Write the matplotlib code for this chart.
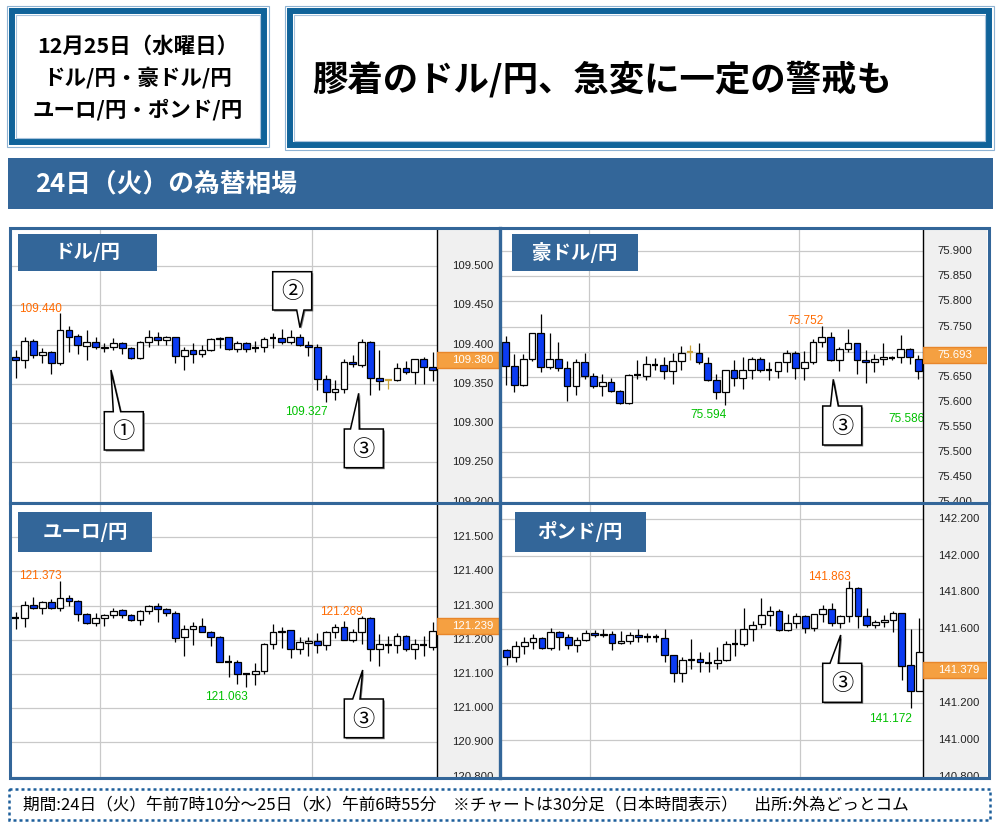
import numpy as np
import matplotlib
matplotlib.use('Agg')
import matplotlib.pyplot as plt
from matplotlib.patches import Rectangle, Polygon

plt.rcParams['font.family'] = ['Noto Sans CJK JP', 'DejaVu Sans']

# --- データ: 30分足 (24日 7:10 ～ 25日 6:55) ---
usd_open = [109.384, 109.380, 109.404, 109.387, 109.391, 109.377, 109.419, 109.411, 109.398, 109.403,
            109.396, 109.397, 109.402, 109.396, 109.383, 109.403, 109.409, 109.406, 109.409, 109.385,
            109.393, 109.388, 109.393, 109.408, 109.409, 109.394, 109.402, 109.395, 109.397, 109.408,
            109.408, 109.403, 109.409, 109.399, 109.397, 109.356, 109.340, 109.343, 109.378, 109.374,
            109.403, 109.358, 109.355, 109.355, 109.370, 109.365, 109.381, 109.371]
usd_high = [109.393, 109.409, 109.407, 109.396, 109.392, 109.440, 109.423, 109.414, 109.419, 109.409,
            109.402, 109.408, 109.403, 109.397, 109.404, 109.419, 109.416, 109.411, 109.410, 109.397,
            109.402, 109.399, 109.408, 109.409, 109.410, 109.404, 109.403, 109.405, 109.409, 109.415,
            109.420, 109.419, 109.414, 109.404, 109.401, 109.361, 109.355, 109.382, 109.387, 109.407,
            109.404, 109.393, 109.355, 109.376, 109.379, 109.382, 109.384, 109.391]
usd_low = [109.357, 109.370, 109.383, 109.376, 109.362, 109.374, 109.390, 109.388, 109.380, 109.394,
           109.391, 109.393, 109.388, 109.381, 109.381, 109.397, 109.399, 109.399, 109.376, 109.367,
           109.376, 109.384, 109.392, 109.395, 109.393, 109.391, 109.391, 109.391, 109.391, 109.395,
           109.401, 109.401, 109.398, 109.386, 109.342, 109.327, 109.330, 109.338, 109.372, 109.372,
           109.336, 109.342, 109.344, 109.354, 109.363, 109.350, 109.350, 109.354]
usd_close = [109.380, 109.404, 109.387, 109.391, 109.377, 109.419, 109.409, 109.399, 109.403, 109.397,
             109.397, 109.402, 109.396, 109.383, 109.403, 109.409, 109.406, 109.409, 109.385, 109.393,
             109.388, 109.393, 109.407, 109.407, 109.394, 109.402, 109.394, 109.395, 109.407, 109.408,
             109.403, 109.409, 109.399, 109.397, 109.356, 109.340, 109.343, 109.378, 109.375, 109.403,
             109.358, 109.354, 109.355, 109.370, 109.365, 109.381, 109.372, 109.367]

aud_open = [75.719, 75.671, 75.633, 75.685, 75.737, 75.669, 75.686, 75.667, 75.631, 75.680,
            75.651, 75.632, 75.640, 75.622, 75.598, 75.653, 75.651, 75.673, 75.673, 75.661,
            75.681, 75.699, 75.697, 75.677, 75.643, 75.620, 75.663, 75.648, 75.664, 75.685,
            75.663, 75.661, 75.679, 75.697, 75.667, 75.679, 75.719, 75.729, 75.683, 75.705,
            75.717, 75.684, 75.679, 75.685, 75.688, 75.689, 75.705, 75.685]
aud_high = [75.732, 75.696, 75.696, 75.738, 75.775, 75.737, 75.719, 75.681, 75.686, 75.697,
            75.657, 75.655, 75.648, 75.623, 75.656, 75.683, 75.692, 75.688, 75.689, 75.697,
            75.711, 75.714, 75.717, 75.690, 75.655, 75.664, 75.683, 75.689, 75.690, 75.690,
            75.679, 75.680, 75.704, 75.701, 75.702, 75.725, 75.752, 75.739, 75.710, 75.745,
            75.718, 75.704, 75.696, 75.717, 75.692, 75.733, 75.708, 75.694]
aud_low = [75.633, 75.620, 75.632, 75.681, 75.659, 75.666, 75.661, 75.601, 75.613, 75.646,
           75.627, 75.611, 75.620, 75.596, 75.595, 75.646, 75.644, 75.663, 75.646, 75.636,
           75.663, 75.683, 75.676, 75.642, 75.605, 75.594, 75.631, 75.625, 75.646, 75.659,
           75.644, 75.648, 75.659, 75.646, 75.644, 75.676, 75.710, 75.682, 75.661, 75.699,
           75.656, 75.638, 75.659, 75.673, 75.683, 75.677, 75.676, 75.646]
aud_close = [75.671, 75.633, 75.685, 75.737, 75.669, 75.685, 75.668, 75.631, 75.680, 75.651,
             75.632, 75.640, 75.622, 75.598, 75.653, 75.653, 75.675, 75.673, 75.661, 75.681,
             75.697, 75.699, 75.679, 75.643, 75.620, 75.663, 75.648, 75.663, 75.685, 75.664,
             75.663, 75.679, 75.697, 75.667, 75.679, 75.719, 75.729, 75.683, 75.705, 75.717,
             75.683, 75.679, 75.686, 75.689, 75.688, 75.705, 75.689, 75.661]

eur_open = [121.265, 121.265, 121.303, 121.294, 121.309, 121.294, 121.321, 121.313, 121.275, 121.249,
            121.265, 121.272, 121.287, 121.273, 121.258, 121.283, 121.299, 121.289, 121.277, 121.207,
            121.230, 121.241, 121.222, 121.207, 121.134, 121.134, 121.100, 121.100, 121.109, 121.187,
            121.224, 121.228, 121.173, 121.191, 121.195, 121.185, 121.222, 121.236, 121.200, 121.224,
            121.265, 121.173, 121.186, 121.185, 121.210, 121.173, 121.186, 121.178]
eur_high = [121.280, 121.314, 121.326, 121.314, 121.320, 121.373, 121.331, 121.315, 121.278, 121.278,
            121.275, 121.294, 121.289, 121.275, 121.287, 121.301, 121.306, 121.294, 121.285, 121.243,
            121.251, 121.265, 121.227, 121.212, 121.156, 121.140, 121.103, 121.132, 121.190, 121.245,
            121.236, 121.229, 121.207, 121.207, 121.219, 121.227, 121.245, 121.254, 121.231, 121.269,
            121.266, 121.216, 121.210, 121.219, 121.214, 121.201, 121.210, 121.251]
eur_low = [121.231, 121.236, 121.289, 121.275, 121.289, 121.285, 121.299, 121.256, 121.246, 121.239,
           121.241, 121.265, 121.265, 121.254, 121.244, 121.275, 121.253, 121.270, 121.193, 121.154,
           121.186, 121.222, 121.183, 121.134, 121.090, 121.071, 121.063, 121.067, 121.101, 121.173,
           121.175, 121.148, 121.157, 121.152, 121.162, 121.169, 121.206, 121.198, 121.193, 121.188,
           121.138, 121.122, 121.162, 121.161, 121.168, 121.143, 121.152, 121.169]
eur_close = [121.265, 121.303, 121.294, 121.309, 121.294, 121.321, 121.313, 121.275, 121.249, 121.265,
             121.272, 121.285, 121.273, 121.258, 121.283, 121.299, 121.289, 121.278, 121.204, 121.230,
             121.241, 121.224, 121.207, 121.135, 121.134, 121.101, 121.100, 121.109, 121.187, 121.224,
             121.226, 121.173, 121.193, 121.195, 121.185, 121.222, 121.236, 121.200, 121.224, 121.265,
             121.173, 121.187, 121.186, 121.210, 121.173, 121.187, 121.186, 121.227]

gbp_open = [141.488, 141.449, 141.511, 141.533, 141.554, 141.497, 141.586, 141.559, 141.517, 141.543,
            141.582, 141.568, 141.577, 141.526, 141.538, 141.570, 141.556, 141.556, 141.552, 141.458,
            141.364, 141.432, 141.440, 141.419, 141.419, 141.435, 141.520, 141.520, 141.600, 141.627,
            141.677, 141.701, 141.595, 141.632, 141.671, 141.606, 141.684, 141.712, 141.632, 141.671,
            141.826, 141.671, 141.623, 141.641, 141.652, 141.687, 141.405, 141.267]
gbp_high = [141.494, 141.535, 141.559, 141.577, 141.559, 141.609, 141.591, 141.574, 141.559, 141.595,
            141.595, 141.600, 141.591, 141.588, 141.586, 141.600, 141.582, 141.577, 141.600, 141.460,
            141.449, 141.550, 141.476, 141.476, 141.506, 141.538, 141.600, 141.716, 141.645, 141.769,
            141.724, 141.710, 141.684, 141.689, 141.680, 141.685, 141.730, 141.742, 141.677, 141.863,
            141.827, 141.716, 141.653, 141.680, 141.698, 141.688, 141.604, 141.662]
gbp_low = [141.405, 141.423, 141.467, 141.494, 141.494, 141.488, 141.488, 141.494, 141.476, 141.538,
           141.556, 141.559, 141.488, 141.520, 141.520, 141.529, 141.529, 141.529, 141.423, 141.316,
           141.316, 141.382, 141.369, 141.369, 141.382, 141.428, 141.455, 141.511, 141.538, 141.609,
           141.618, 141.588, 141.593, 141.609, 141.579, 141.591, 141.641, 141.618, 141.609, 141.641,
           141.606, 141.613, 141.609, 141.613, 141.586, 141.325, 141.172, 141.266]
gbp_close = [141.449, 141.511, 141.533, 141.554, 141.497, 141.586, 141.559, 141.517, 141.543, 141.579,
             141.568, 141.577, 141.526, 141.538, 141.570, 141.556, 141.556, 141.556, 141.458, 141.364,
             141.432, 141.440, 141.423, 141.419, 141.435, 141.520, 141.520, 141.600, 141.623, 141.677,
             141.701, 141.595, 141.632, 141.671, 141.606, 141.684, 141.712, 141.632, 141.671, 141.826,
             141.671, 141.623, 141.641, 141.652, 141.687, 141.400, 141.267, 141.476]

# 目盛り
usd_ticks = [109.20, 109.25, 109.30, 109.35, 109.40, 109.45, 109.50]
aud_ticks = [75.40, 75.45, 75.50, 75.55, 75.60, 75.65, 75.70, 75.75, 75.80, 75.85, 75.90]
eur_ticks = [120.8, 120.9, 121.0, 121.1, 121.2, 121.3, 121.4, 121.5]
gbp_ticks = [140.8, 141.0, 141.2, 141.4, 141.6, 141.8, 142.0, 142.2]

# 現在値
usd_last = 109.380
aud_last = 75.693
eur_last = 121.239
gbp_last = 141.379

# 高値・安値ラベル (足の番号, 値)
usd_high_lbl = [(5, 109.440)]
usd_low_lbl = [(35, 109.327)]
aud_high_lbl = [(36, 75.752)]
aud_low_lbl = [(25, 75.594), (47.6, 75.586)]
eur_high_lbl = [(5, 121.373), (39, 121.269)]
eur_low_lbl = [(26, 121.063)]
gbp_high_lbl = [(39, 141.863)]
gbp_low_lbl = [(46, 141.172)]

# --- 体裁 ---
W, H = 999, 826
BLUE = '#336699'
HDR = '#10639a'
CANDLE_BLUE = '#0b3bf2'
GRID = '#c9c9c9'
NUM_FONT = ['Liberation Sans Narrow', 'Liberation Sans', 'DejaVu Sans']
LBL_FONT = ['Liberation Sans', 'DejaVu Sans']
BW = 0.76
BOX_PX = 16.0


def px_rect(x0, y0, x1, y1):
    return [x0 / W, 1 - y1 / H, (x1 - x0) / W, (y1 - y0) / H]


fig = plt.figure(figsize=(W / 100, H / 100), dpi=100)

bg = fig.add_axes([0, 0, 1, 1], zorder=0)
bg.set_xlim(0, W)
bg.set_ylim(H, 0)
bg.axis('off')

fg = fig.add_axes([0, 0, 1, 1], zorder=10)
fg.set_xlim(0, W)
fg.set_ylim(H, 0)
fg.axis('off')


# --- ヘッダー ---
def double_box(x0, y0, x1, y1):
    bg.add_patch(Rectangle((x0, y0), x1 - x0, y1 - y0, fill=False, ec='#8fb3d3', lw=0.8))
    bg.add_patch(Rectangle((x0 + 5, y0 + 5), x1 - x0 - 10, y1 - y0 - 10, fill=False, ec=HDR, lw=4.3))
    bg.add_patch(Rectangle((x0 + 9, y0 + 9), x1 - x0 - 18, y1 - y0 - 18, fill=False, ec='#a9c3dc', lw=0.8))


double_box(7, 6, 269, 147)
double_box(285, 6, 994, 150)

for yy, s in [(46, '12月25日（水曜日）'), (78, 'ドル/円・豪ドル/円'), (110, 'ユーロ/円・ポンド/円')]:
    bg.text(138, yy, s, ha='center', va='center', fontsize=15.5, fontweight='bold')

bg.text(312, 79, '膠着のドル/円、急変に一定の警戒も', ha='left', va='center',
        fontsize=25.5, fontweight='bold')

bg.add_patch(Rectangle((8, 158), 985, 51, fc=BLUE, ec='none'))
bg.text(35, 184, '24日（火）の為替相場', ha='left', va='center', color='white',
        fontsize=18.5, fontweight='bold')

# --- フッター ---
bg.add_patch(Rectangle((9, 789), 981, 31, fill=False, ec='#1d5f9b', lw=1.8, ls=(0, (1.2, 1.2))))
bg.text(23, 805, '期間:24日（火）午前7時10分～25日（水）午前6時55分　※チャートは30分足（日本時間表示）　出所:外為どっとコム',
        ha='left', va='center', fontsize=12)


# --- ローソク足パネル ---
def draw_panel(main, strip, o, h, l, c, ylim, xlim, ticks, last, gold=None):
    ax = fig.add_axes(px_rect(*main), zorder=2)
    ax.set_xlim(*xlim)
    ax.set_ylim(*ylim)
    ax.set_facecolor('white')
    for sp in ax.spines.values():
        sp.set_visible(False)
    ax.set_yticks(ticks)
    ax.set_xticks([])
    ax.tick_params(length=0, labelleft=False, labelbottom=False)
    ax.grid(axis='y', color=GRID, lw=0.9)
    for gx in (9.5, 33.4):
        ax.axvline(gx, color=GRID, lw=0.9, zorder=0.5)
    ax.set_axisbelow(True)

    for i in range(len(o)):
        col = '#c9a23a' if i == gold else 'black'
        ax.vlines(i, l[i], h[i], color=col, lw=0.9, zorder=2)
        lo, hi = min(o[i], c[i]), max(o[i], c[i])
        if hi - lo < 1e-9:
            ax.hlines(o[i], i - BW / 2, i + BW / 2, color=col, lw=1.6, zorder=3)
        else:
            face = CANDLE_BLUE if c[i] < o[i] else 'white'
            ax.add_patch(Rectangle((i - BW / 2, lo), BW, hi - lo, fc=face, ec='black',
                                   lw=0.9, zorder=3))

    st = fig.add_axes(px_rect(*strip), zorder=3, sharey=ax)
    st.set_facecolor('#f0f0f0')
    st.set_xlim(0, 1)
    st.set_xticks([])
    st.tick_params(length=0, labelleft=False, labelbottom=False)
    for name, sp in st.spines.items():
        sp.set_visible(name == 'left')
    st.spines['left'].set_color('black')
    st.spines['left'].set_linewidth(1.0)

    span = (ylim[1] - ylim[0]) / (main[3] - main[1])   # 値 / px
    for v in ticks:
        if abs(v - last) < 9 * span:   # 現在値の枠に隠れる目盛り
            continue
        st.annotate('%.3f' % v, xy=(0, v), xycoords=('axes fraction', 'data'), xytext=(11, 0),
                    textcoords='offset points', ha='left', va='center', fontsize=8.2,
                    family=NUM_FONT, color='#222222', clip_on=True, annotation_clip=False)

    # 現在値の枠
    bh = BOX_PX * span
    st.add_patch(Rectangle((0, last - bh / 2), 1, bh, fc='#f5a041', ec='#e8862a', lw=1.0, zorder=4))
    st.annotate('%.3f' % last, xy=(0, last), xycoords=('axes fraction', 'data'), xytext=(11, 0),
                textcoords='offset points', ha='left', va='center', fontsize=8.2,
                family=NUM_FONT, color='white', zorder=5)
    return ax


def price_labels(ax, highs, lows):
    for idx, v in highs:
        ax.annotate('%.3f' % v, xy=(idx, v), xytext=(1, 3), textcoords='offset points',
                    ha='right', va='center', fontsize=8.5, family=LBL_FONT,
                    color='#ff6a00', clip_on=True, annotation_clip=False, zorder=6)
    for idx, v in lows:
        ax.annotate('%.3f' % v, xy=(idx, v), xytext=(1, -7.6), textcoords='offset points',
                    ha='right', va='center', fontsize=8.5, family=LBL_FONT,
                    color='#00c000', clip_on=True, annotation_clip=False, zorder=6)


ax1 = draw_panel((11, 229.3, 437, 501.7), (437, 229.3, 498.7, 501.7),
                 usd_open, usd_high, usd_low, usd_close,
                 (109.2038, 109.5466), (-0.53, 47.5), usd_ticks, usd_last, gold=42)
ax2 = draw_panel((502, 229.3, 922.5, 501.7), (922.5, 229.3, 987, 501.7),
                 aud_open, aud_high, aud_low, aud_close,
                 (75.4058, 75.9442), (-0.42, 47.47), aud_ticks, aud_last, gold=21)
ax3 = draw_panel((11, 504.3, 437, 776.7), (437, 504.3, 498.7, 776.7),
                 eur_open, eur_high, eur_low, eur_close,
                 (120.8062, 121.5957), (-0.53, 47.5), eur_ticks, eur_last)
ax4 = draw_panel((502, 504.3, 922.5, 776.7), (922.5, 504.3, 987, 776.7),
                 gbp_open, gbp_high, gbp_low, gbp_close,
                 (140.8276, 142.2783), (-0.54, 47.36), gbp_ticks, gbp_last)

price_labels(ax1, usd_high_lbl, usd_low_lbl)
price_labels(ax2, aud_high_lbl, aud_low_lbl)
price_labels(ax3, eur_high_lbl, eur_low_lbl)
price_labels(ax4, gbp_high_lbl, gbp_low_lbl)

# --- 枠線 ---
fg.add_patch(Rectangle((9.7, 228), 978.8, 550, fill=False, ec=BLUE, lw=2.2))
fg.plot([500.3, 500.3], [228, 778], color=BLUE, lw=2.4)
fg.plot([9.7, 988.5], [503, 503], color=BLUE, lw=2.2)

# --- パネル見出し ---
for (x0, y0, x1, y1), s in [((18.3, 234.3, 156.7, 270.7), 'ドル/円'),
                            ((512.3, 234.3, 637.7, 270.7), '豪ドル/円'),
                            ((18.3, 512.3, 151.7, 551.7), 'ユーロ/円'),
                            ((515, 512.3, 645.7, 551.7), 'ポンド/円')]:
    fg.add_patch(Rectangle((x0, y0), x1 - x0, y1 - y0, fc=BLUE, ec='none'))
    fg.text((x0 + x1) / 2, (y0 + y1) / 2, s, ha='center', va='center', color='white',
            fontsize=14, fontweight='bold')


# --- 吹き出し ---
def callout(label, x0, y0, x1, y1, tip, base, side='top'):
    bx0, bx1 = base
    if side == 'top':
        pts = [(x0, y0), (bx0, y0), tip, (bx1, y0), (x1, y0), (x1, y1), (x0, y1)]
    else:
        pts = [(x0, y0), (x1, y0), (x1, y1), (bx1, y1), tip, (bx0, y1), (x0, y1)]
    shadow = [(px + 1.5, py + 1.5) for px, py in pts]
    fg.add_patch(Polygon(shadow, closed=True, fc='#7a7a7a', ec='none'))
    fg.add_patch(Polygon(pts, closed=True, fc='white', ec='black', lw=1.1, joinstyle='miter'))
    fg.text((x0 + x1) / 2, (y0 + y1) / 2 + 1, label, ha='center', va='center', fontsize=16)


callout('①', 104.3, 411.7, 143.3, 450, (111, 370), (113.3, 120.7))
callout('②', 272.7, 271.7, 311.7, 310, (300, 327.7), (296.7, 304), side='bottom')
callout('③', 344.3, 429, 383.3, 467.7, (358.7, 393.3), (350.5, 359.3))
callout('③', 822.7, 406, 861.7, 445, (833.3, 379.3), (830.5, 838.3))
callout('③', 344.3, 699, 383.3, 737.7, (362.7, 670), (352.7, 360))
callout('③', 822.7, 663.3, 861.7, 702.3, (840.7, 635), (830, 838.3))

fig.savefig('out.png', dpi=100, facecolor='white')
